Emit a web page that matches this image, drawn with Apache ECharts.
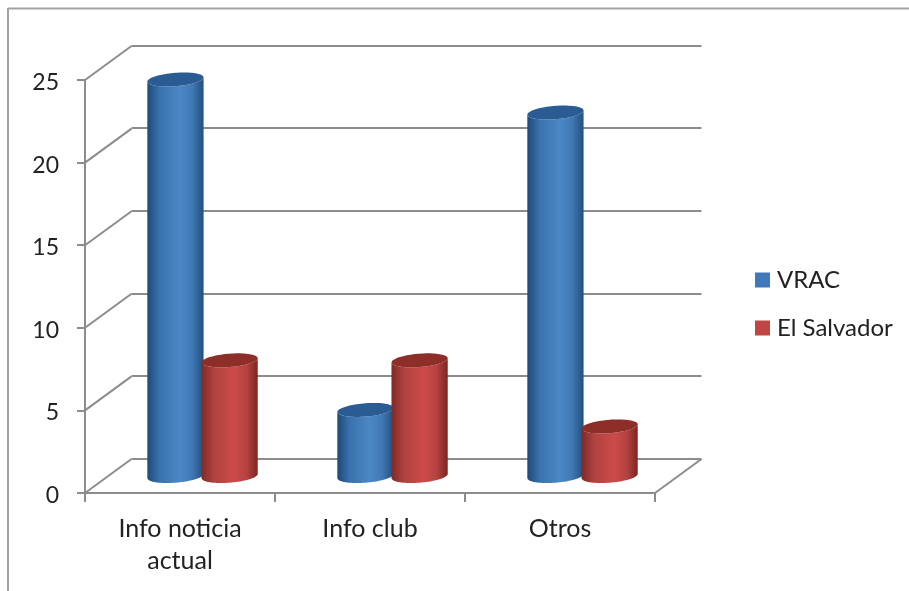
<!DOCTYPE html>
<html>
<head>
<meta charset="utf-8">
<style>html,body{margin:0;padding:0;background:#fff}#c{width:909px;height:591px}</style>
<script src="https://cdn.jsdelivr.net/npm/echarts@6/dist/echarts.min.js"></script>
</head>
<body>
<div id="c"></div>
<script>
// Chart data
const categories = ['Info noticia\nactual', 'Info club', 'Otros'];
const vracValues = [24, 4, 22];
const salvadorValues = [7, 7, 3];
const yTicks = [0, 5, 10, 15, 20, 25];

// Oblique projection used for the pseudo-3D box
const DEPTH_X = 46.5, DEPTH_Y = -34;
const FONT = 'Lato, "Open Sans", sans-serif';
const LINE = '#8c8c8c', TEXT = '#222222';

const blueShade = { side: ['#1d4a78', '#3a72ad', '#4c87c6', '#3f78b4', '#234f7e'], top: '#2a5b93' };
const redShade = { side: ['#7f2a26', '#b04240', '#cc4b49', '#b54341', '#7c2522'], top: '#8e2e29' };

function cylinder(shade, offsetRatio) {
  return function (params, api) {
    const band = api.size([1, 0])[0];
    const top = api.coord([api.value(0), api.value(1)]);
    const base = api.coord([api.value(0), 0]);
    const cx = top[0] + band * offsetRatio;
    const a = band * 0.148, b = 6.7, shear = 2.1;
    const rim = (cy, t) => [cx + a * Math.cos(t), cy + b * Math.sin(t) - shear * Math.cos(t)];
    const n = 40;
    const body = [];
    // top rim, front half, left to right
    for (let i = 0; i <= n; i++) body.push(rim(top[1], Math.PI - Math.PI * i / n));
    // bottom rim, front half, right to left
    for (let i = 0; i <= n; i++) body.push(rim(base[1], Math.PI * i / n));
    const cap = [];
    for (let i = 0; i < 2 * n; i++) cap.push(rim(top[1], Math.PI * i / n));
    const s = shade.side;
    return {
      type: 'group',
      children: [
        {
          type: 'polygon', shape: { points: body },
          style: {
            fill: {
              type: 'linear', x: 0, y: 0, x2: 1, y2: 0,
              colorStops: [
                { offset: 0, color: s[0] }, { offset: 0.22, color: s[1] },
                { offset: 0.58, color: s[2] }, { offset: 0.8, color: s[3] },
                { offset: 1, color: s[4] }
              ]
            }
          }
        },
        { type: 'polygon', shape: { points: cap }, style: { fill: shade.top } }
      ]
    };
  };
}

// Slanted floor and side-wall edges running from the front plane to the back plane.
// Each datum is [category index, axis value, side of that category's band (-1 or 1)].
function wallEdge(params, api) {
  const p = api.coord([api.value(0), api.value(1)]);
  const x = p[0] + api.value(2) * api.size([1, 0])[0] / 2;
  return {
    type: 'line',
    shape: { x1: x, y1: p[1], x2: x + DEPTH_X, y2: p[1] + DEPTH_Y },
    style: { stroke: LINE, lineWidth: 2 }
  };
}

const chart = echarts.init(document.getElementById('c'));
chart.setOption({
  animation: false,
  backgroundColor: '#ffffff',
  textStyle: { fontFamily: FONT },
  grid: [
    { left: 85, top: 80, width: 570, height: 413 },
    { left: 131.5, top: 45.5, width: 570, height: 413 },
    { left: 108, top: 63, width: 570, height: 413 }
  ],
  xAxis: [
    {
      gridIndex: 0, type: 'category', data: categories,
      axisLine: { lineStyle: { color: LINE, width: 2 } },
      axisTick: { show: true, length: 9, lineStyle: { color: LINE, width: 2 } },
      axisLabel: { color: TEXT, fontSize: 25, fontFamily: FONT, lineHeight: 32, margin: 20 }
    },
    { gridIndex: 1, type: 'category', data: categories, show: false },
    { gridIndex: 2, type: 'category', data: categories, show: false }
  ],
  yAxis: [
    {
      gridIndex: 0, type: 'value', min: 0, max: 25, interval: 5,
      axisLine: { show: true, lineStyle: { color: LINE, width: 2 } },
      axisTick: { show: true, length: 8, lineStyle: { color: LINE, width: 2 } },
      axisLabel: { color: TEXT, fontSize: 23, fontFamily: FONT, margin: 26, verticalAlign: 'top', lineHeight: 5 },
      splitLine: { show: false }
    },
    {
      gridIndex: 1, type: 'value', min: 0, max: 25, interval: 5,
      axisLine: { show: false }, axisTick: { show: false }, axisLabel: { show: false },
      splitLine: { show: true, lineStyle: { color: LINE, width: 2 } }
    },
    { gridIndex: 2, type: 'value', min: 0, max: 25, interval: 5, show: false }
  ],
  legend: {
    orient: 'vertical', left: 750, top: 263, itemWidth: 15, itemHeight: 15, itemGap: 24,
    selectedMode: false,
    textStyle: { color: TEXT, fontSize: 24, fontFamily: FONT, padding: [0, 0, 0, 2] },
    data: [
      { name: 'VRAC', icon: 'rect', itemStyle: { color: '#4178bc' } },
      { name: 'El Salvador', icon: 'rect', itemStyle: { color: '#bf4644' } }
    ]
  },
  graphic: [
    { type: 'line', shape: { x1: 8, y1: 8.5, x2: 909, y2: 8.5 }, style: { stroke: '#a3a3a3', lineWidth: 2 } },
    { type: 'line', shape: { x1: 8, y1: 8, x2: 8, y2: 591 }, style: { stroke: '#a3a3a3', lineWidth: 2 } }
  ],
  series: [
    {
      type: 'custom', name: 'edges', xAxisIndex: 0, yAxisIndex: 0, silent: true,
      renderItem: wallEdge, encode: { x: 0, y: 1 }, z: 1,
      data: yTicks.map(v => [0, v, -1]).concat([[categories.length - 1, 0, 1]])
    },
    {
      type: 'custom', name: 'VRAC', xAxisIndex: 2, yAxisIndex: 2, silent: true,
      renderItem: cylinder(blueShade, -0.145), encode: { x: 0, y: 1 }, z: 3,
      itemStyle: { color: '#4178bc' },
      data: vracValues.map((v, i) => [i, v])
    },
    {
      type: 'custom', name: 'El Salvador', xAxisIndex: 2, yAxisIndex: 2, silent: true,
      renderItem: cylinder(redShade, 0.14), encode: { x: 0, y: 1 }, z: 4,
      itemStyle: { color: '#bf4644' },
      data: salvadorValues.map((v, i) => [i, v])
    }
  ]
});
</script>
</body>
</html>
